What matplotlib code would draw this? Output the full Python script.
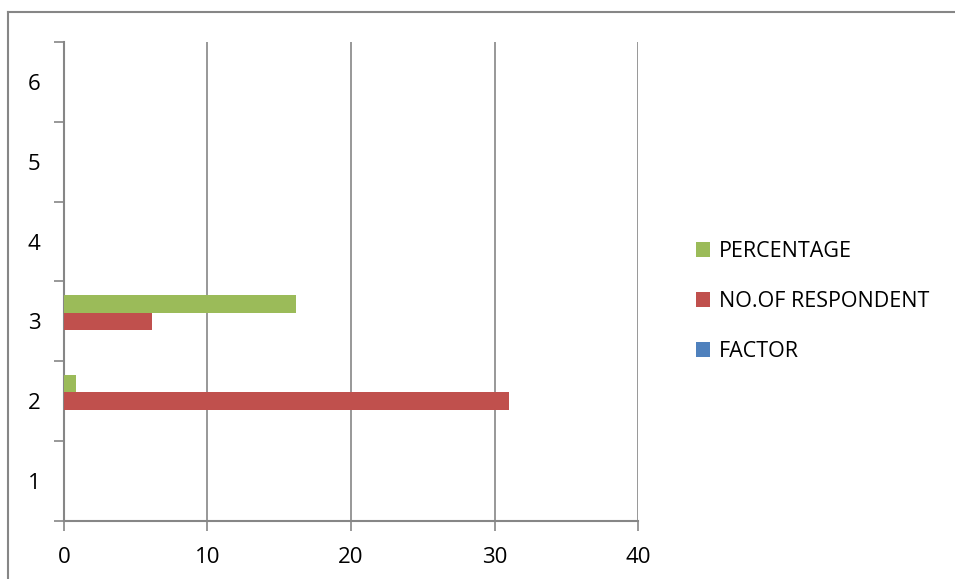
import numpy as np
import matplotlib
matplotlib.use("Agg")
import matplotlib.pyplot as plt
from matplotlib.lines import Line2D

plt.rcParams['font.family'] = ['Open Sans', 'DejaVu Sans']

categories = ['1', '2', '3', '4', '5', '6']
series_names = ['FACTOR', 'NO.OF RESPONDENT', 'PERCENTAGE']
factor = [0, 0, 0, 0, 0, 0]
respondents = [0, 31, 6.1, 0, 0, 0]
percentage = [0, 0.84, 16.2, 0, 0, 0]
colors = ['#4f81bd', '#c0504d', '#9bbb59']
x_ticks = [0, 10, 20, 30, 40]

axis_grey = '#868686'

fig = plt.figure(figsize=(9.55, 5.79), dpi=100)
ax = fig.add_axes([0.067, 0.1002, 0.6011, 0.8273])

pos = np.arange(len(categories))
h = 0.222
for i, (vals, name, c) in enumerate(zip([factor, respondents, percentage], series_names, colors)):
    ax.barh(pos + (i - 1) * h, vals, height=h, color=c, label=name, zorder=3)

ax.set_xlim(0, 40)
ax.set_ylim(-0.5, len(categories) - 0.5)
ax.set_xticks(x_ticks)
ax.xaxis.grid(True, color=axis_grey, linewidth=1.2, zorder=0)

# category labels sit between the tick marks
ax.set_yticks(np.arange(-0.5, len(categories)), labels=[])
ax.set_yticks(pos, labels=categories, minor=True)
ax.tick_params(axis='y', which='major', length=7, width=1.2, color=axis_grey, direction='out')
ax.tick_params(axis='y', which='minor', length=0, pad=17, labelsize=16)
ax.tick_params(axis='x', length=7, width=1.2, color=axis_grey, pad=12, labelsize=16)

for side in ['top', 'right']:
    ax.spines[side].set_visible(False)
for side in ['left', 'bottom']:
    ax.spines[side].set_color(axis_grey)
    ax.spines[side].set_linewidth(1.5)

handles, labels = ax.get_legend_handles_labels()
ax.legend(handles[::-1], labels[::-1], loc='center left', bbox_to_anchor=(1.068, 0.458),
          frameon=False, fontsize=15.5, handlelength=0.62, handleheight=0.65,
          handletextpad=0.42, labelspacing=1.35)

# outer frame: top and left edges only
fig.add_artist(Line2D([8 / 955, 1], [1 - 12 / 579] * 2, color=axis_grey, linewidth=1.5))
fig.add_artist(Line2D([8 / 955] * 2, [0, 1 - 12 / 579], color=axis_grey, linewidth=1.5))

fig.savefig('out.png', dpi=100)
